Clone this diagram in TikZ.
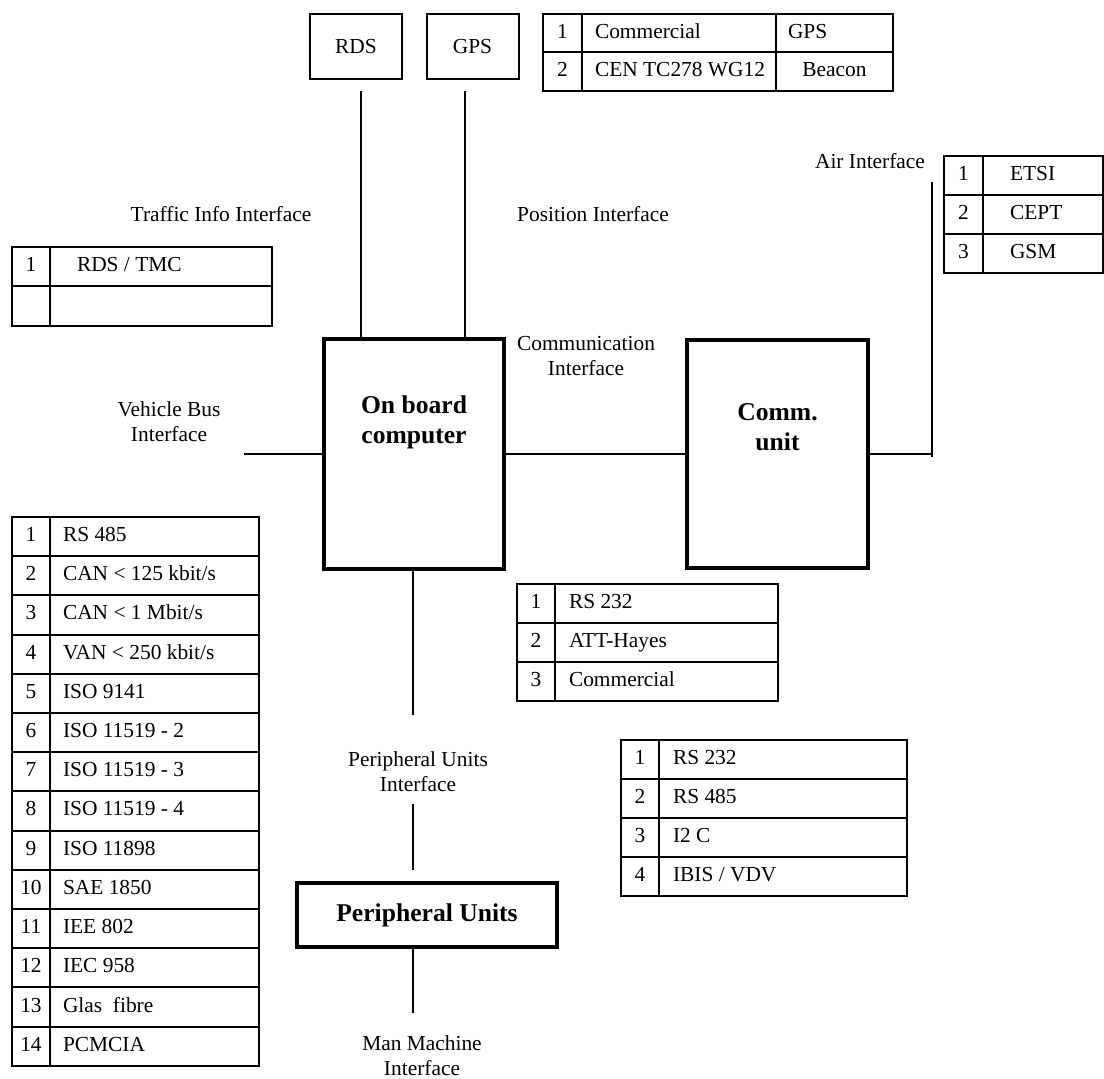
\documentclass[tikz,border=0pt]{standalone}
\usepackage{fontspec}
\setmainfont{Liberation Serif}
\usetikzlibrary{positioning}
\tikzset{
  unit/.style={draw, line width=1pt, minimum width=46pt, minimum height=32.5pt},
  block/.style={draw, line width=2pt},
  heading/.style={font=\fontsize{12.8}{15}\selectfont\bfseries, align=center},
  numcell/.style={draw, line width=1pt, outer sep=0pt, anchor=north west, inner sep=0pt,
    minimum width=19pt, text height=7.5pt, text depth=2.5pt},
  txtcell/.style={draw, line width=1pt, outer sep=0pt, anchor=north west, inner ysep=0pt,
    text height=7.5pt, text depth=2.5pt, execute at begin node={\spaceskip=0pt\xspaceskip=0pt\relax}},
  link/.style={line width=1pt}
}
\begin{document}
\begin{tikzpicture}[x=0.5pt, y=-0.5pt, font=\fontsize{10.7}{12.5}\selectfont]
\useasboundingbox (0,0) rectangle (1104,1079);
% units and blocks
\node[unit] (rds) at (356,46.5) {RDS};
\node[unit] (gps) at (472.5,46.5) {GPS};
\node[block, minimum width=90pt, minimum height=115pt] (obc) at (414,454) {};
\node[heading] (obctxt) at (414,422) {On board\\computer};
\node[block, minimum width=90.5pt, minimum height=114pt] (comm) at (777.5,454) {};
\node[heading] (commtxt) at (777.5,427) {Comm.\\unit};
\node[block, heading, minimum width=130pt, minimum height=32pt] (periph) at (427,915) {Peripheral Units};
% interface lines
\coordinate (rdsend) at (361,91);
\coordinate (gpsend) at (465,91);
\coordinate (busend) at (244,454);
\coordinate (aircorner) at (932,454);
\coordinate (airtop) at (932,182);
\coordinate (airfoot) at (932,457);
\coordinate (pifoot) at (413,715);
\coordinate (pitop) at (413,804);
\coordinate (pibot) at (413,870);
\coordinate (mmitop) at (413,1013);
\draw[link] (rdsend) -- (rdsend |- obc.north);
\draw[link] (gpsend) -- (gpsend |- obc.north);
\draw[link] (busend) -- (obc.west);
\draw[link] (obc.east) -- (comm.west);
\draw[link] (comm.east) -- (aircorner);
\draw[link] (airtop) -- (airfoot);
\draw[link] (pifoot |- obc.south) -- (pifoot);
\draw[link] (pitop) -- (pibot);
\draw[link] (pibot |- periph.south) -- (mmitop);
% interface labels
\node (trafficlbl) at (221,214) {Traffic Info Interface};
\node (poslbl) at (593,214) {Position Interface};
\node[align=center] (commlbl) at (586,356) {Communication\\Interface};
\node[align=center] (buslbl) at (169,422) {Vehicle Bus\\Interface};
\node (airlbl) at (870,161) {Air Interface};
\node[align=center] (pilbl) at (418,772) {Peripheral Units\\Interface};
\node[align=center] (mmilbl) at (422,1056) {Man Machine\\Interface};
% position table
\node[numcell, minimum width=19.5pt, minimum height=19.25pt] (pos1num) at (543,14) {1};
\node[txtcell, minimum height=19.25pt, inner xsep=6.5pt, text width=84pt] (pos1std) at (582,14) {\mbox{Commercial}};
\node[txtcell, minimum height=19.25pt, inner xsep=6pt, text width=46.5pt] (pos1sys) at (776,14) {\mbox{GPS}};
\node[numcell, minimum width=19.5pt, minimum height=19.25pt] (pos2num) at (543,52.5) {2};
\node[txtcell, minimum height=19.25pt, inner xsep=6.5pt, text width=84pt] (pos2std) at (582,52.5) {\mbox{CEN TC278 WG12}};
\node[txtcell, minimum height=19.25pt, inner xsep=6pt, text width=46.5pt, align=center] (pos2sys) at (776,52.5) {Beacon};
% air table
\foreach \n/\t in {1/ETSI, 2/CEPT, 3/GSM} {
  \node[numcell, minimum width=19.5pt, minimum height=19.5pt] (air\n num) at (944,{156+(\n-1)*39}) {\n};
  \node[txtcell, minimum height=19.5pt, inner xsep=13.5pt, text width=33pt] (air\n std) at (983,{156+(\n-1)*39}) {\mbox{\t}};
}
% traffic table
\node[numcell, minimum height=19.75pt] (traf1num) at (12,247) {1};
\node[txtcell, minimum height=19.75pt, inner xsep=13.5pt, text width=84pt] (traf1std) at (50,247) {\mbox{RDS / TMC}};
\node[numcell, minimum height=19.75pt] (traf2num) at (12,286.5) {};
\node[txtcell, minimum height=19.75pt, inner xsep=13.5pt, text width=84pt] (traf2std) at (50,286.5) {};
% vehicle bus table
\foreach \n/\t in {1/RS 485, 2/{CAN < 125 kbit/s}, 3/{CAN < 1 Mbit/s}, 4/{VAN < 250 kbit/s},
    5/ISO 9141, 6/ISO 11519 - 2, 7/ISO 11519 - 3, 8/ISO 11519 - 4, 9/ISO 11898,
    10/SAE 1850, 11/IEE 802, 12/IEC 958, 13/Glas\ \ fibre, 14/PCMCIA} {
  \node[numcell, minimum height=19.6pt] (bus\n num) at (12,{517+(\n-1)*39.2}) {\n};
  \node[txtcell, minimum height=19.6pt, inner xsep=6.5pt, text width=91.5pt] (bus\n std) at (50,{517+(\n-1)*39.2}) {\mbox{\t}};
}
% communication table
\foreach \n/\t in {1/RS 232, 2/ATT-Hayes, 3/Commercial} {
  \node[numcell, minimum height=19.5pt] (com\n num) at (517,{584+(\n-1)*39}) {\n};
  \node[txtcell, minimum height=19.5pt, inner xsep=7pt, text width=97.5pt] (com\n std) at (555,{584+(\n-1)*39}) {\mbox{\t}};
}
% peripheral table
\foreach \n/\t in {1/RS 232, 2/RS 485, 3/I2 C, 4/{IBIS / VDV}} {
  \node[numcell, minimum height=19.5pt] (per\n num) at (621,{740+(\n-1)*39}) {\n};
  \node[txtcell, minimum height=19.5pt, inner xsep=7pt, text width=110pt] (per\n std) at (659,{740+(\n-1)*39}) {\mbox{\t}};
}
\end{tikzpicture}
\end{document}
